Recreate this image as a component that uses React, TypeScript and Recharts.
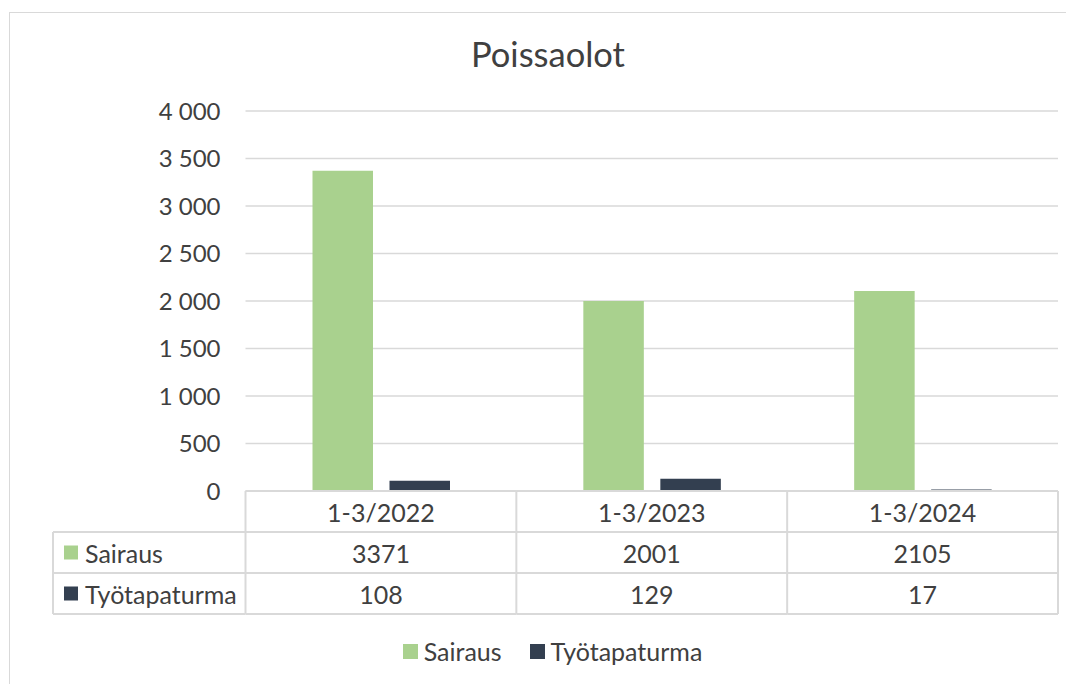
import React from 'react';
import { BarChart, Bar, XAxis, YAxis, CartesianGrid, Legend } from 'recharts';

const categories = ['1-3/2022', '1-3/2023', '1-3/2024'];
const sairaus = [3371, 2001, 2105];
const tyotapaturma = [108, 129, 17];
const yTicks = [0, 500, 1000, 1500, 2000, 2500, 3000, 3500, 4000];
const seriesNames = ['Sairaus', 'Työtapaturma'];
const seriesColors = ['#A9D18E', '#333F50'];
const title = 'Poissaolot';

const data = categories.map((c, i) => ({ category: c, sairaus: sairaus[i], tyo: tyotapaturma[i] }));

const W = 1066;
const H = 676;
const MARGIN = { top: 103, right: 16, left: 0, bottom: 71 };
const YW = 237.5;
const XH = 122;
const ROW = 41;
const BAND = (W - YW - MARGIN.right) / categories.length;
const HEADER_X = 45;
const FONT = 'Lato, "Noto Sans", sans-serif';
const TEXT = '#404040';
const LINE = '#d9d9d9';
const TABLE_FS = 25;

const fmt = (v: number) => String(v).replace(/\B(?=(\d{3})+(?!\d))/g, ' ');

const TableTick = (props: any) => {
  const { x, y, payload, index } = props;
  const i = payload && typeof payload.index === 'number' ? payload.index : index;
  const half = payload && payload.offset ? payload.offset : BAND / 2;
  const left = x - half;
  const right = x + half;
  const rows = [categories[i], String(sairaus[i]), String(tyotapaturma[i])];
  const ls = { stroke: LINE, strokeWidth: 2 };
  return (
    <g>
      {[0, 1, 2, 3].map((r) => (
        <line key={'h' + r} x1={left} x2={right} y1={y + r * ROW} y2={y + r * ROW} {...ls} />
      ))}
      <line x1={left} x2={left} y1={y} y2={y + 3 * ROW} {...ls} />
      {i === categories.length - 1 && <line x1={right} x2={right} y1={y} y2={y + 3 * ROW} {...ls} />}
      {rows.map((t, r) => (
        <text
          key={'t' + r}
          x={x}
          y={y + r * ROW + ROW / 2}
          textAnchor="middle"
          dominantBaseline="central"
          fill={TEXT}
          fontSize={TABLE_FS}
          fontFamily={FONT}
        >
          {t}
        </text>
      ))}
      {i === 0 && (
        <g>
          {[1, 2, 3].map((r) => (
            <line key={'lh' + r} x1={HEADER_X} x2={left} y1={y + r * ROW} y2={y + r * ROW} {...ls} />
          ))}
          <line x1={HEADER_X} x2={HEADER_X} y1={y + ROW} y2={y + 3 * ROW} {...ls} />
          {seriesNames.map((n, k) => (
            <g key={'s' + k}>
              <rect x={HEADER_X + 11} y={y + (k + 1) * ROW + ROW / 2 - 7} width={14} height={14} fill={seriesColors[k]} />
              <text
                x={HEADER_X + 32}
                y={y + (k + 1) * ROW + ROW / 2}
                dominantBaseline="central"
                fill={TEXT}
                fontSize={TABLE_FS}
                fontFamily={FONT}
              >
                {n}
              </text>
            </g>
          ))}
        </g>
      )}
    </g>
  );
};

const renderLegend = (props: any) => {
  const items =
    props && props.payload && props.payload.length
      ? props.payload.map((e: any) => ({ value: e.value, color: e.color }))
      : seriesNames.map((n, k) => ({ value: n, color: seriesColors[k] }));
  return (
    <div
      style={{
        display: 'flex',
        justifyContent: 'center',
        paddingLeft: 23,
        fontFamily: FONT,
        fontSize: TABLE_FS,
        color: TEXT,
        lineHeight: '30px',
      }}
    >
      {items.map((e: any, k: number) => (
        <div key={k} style={{ display: 'flex', alignItems: 'center', marginRight: k === 0 ? 28 : 0 }}>
          <span style={{ width: 15, height: 15, background: e.color, marginRight: 6, display: 'inline-block' }} />
          <span>{e.value}</span>
        </div>
      ))}
    </div>
  );
};

export default function App() {
  return (
    <div style={{ position: 'relative', width: W, height: H, overflow: 'hidden', background: '#fff' }}>
      <div
        style={{
          position: 'absolute',
          left: 1,
          top: 4,
          width: 1300,
          height: 1000,
          border: `1.3px solid ${LINE}`,
          boxSizing: 'border-box',
        }}
      />
      <div
        style={{
          position: 'absolute',
          left: 0,
          width: W,
          top: 26,
          textAlign: 'center',
          paddingLeft: 14,
          boxSizing: 'border-box',
          fontFamily: FONT,
          fontSize: 34.5,
          lineHeight: '40px',
          color: TEXT,
        }}
      >
        {title}
      </div>
      <div style={{ position: 'absolute', left: 0, top: 0 }}>
        <BarChart width={W} height={H} data={data} margin={MARGIN} barSize={60.5} barGap={16.5}>
          <CartesianGrid vertical={false} stroke={LINE} strokeWidth={1.3} />
          <XAxis
            dataKey="category"
            height={XH}
            axisLine={false}
            tickLine={false}
            tickSize={0}
            tickMargin={0}
            interval={0}
            tick={<TableTick />}
          />
          <YAxis
            width={YW}
            domain={[0, 4000]}
            ticks={yTicks}
            axisLine={false}
            tickLine={false}
            tickSize={0}
            tickMargin={25}
            tickFormatter={fmt}
            tick={{ fill: TEXT, fontSize: 24, fontFamily: FONT }}
          />
          <Legend
            layout="horizontal"
            verticalAlign="middle"
            align="center"
            wrapperStyle={{ top: 628, left: 0, width: W }}
            content={renderLegend}
          />
          <Bar dataKey="sairaus" name={seriesNames[0]} fill={seriesColors[0]} isAnimationActive={false} />
          <Bar dataKey="tyo" name={seriesNames[1]} fill={seriesColors[1]} isAnimationActive={false} />
        </BarChart>
      </div>
    </div>
  );
}
